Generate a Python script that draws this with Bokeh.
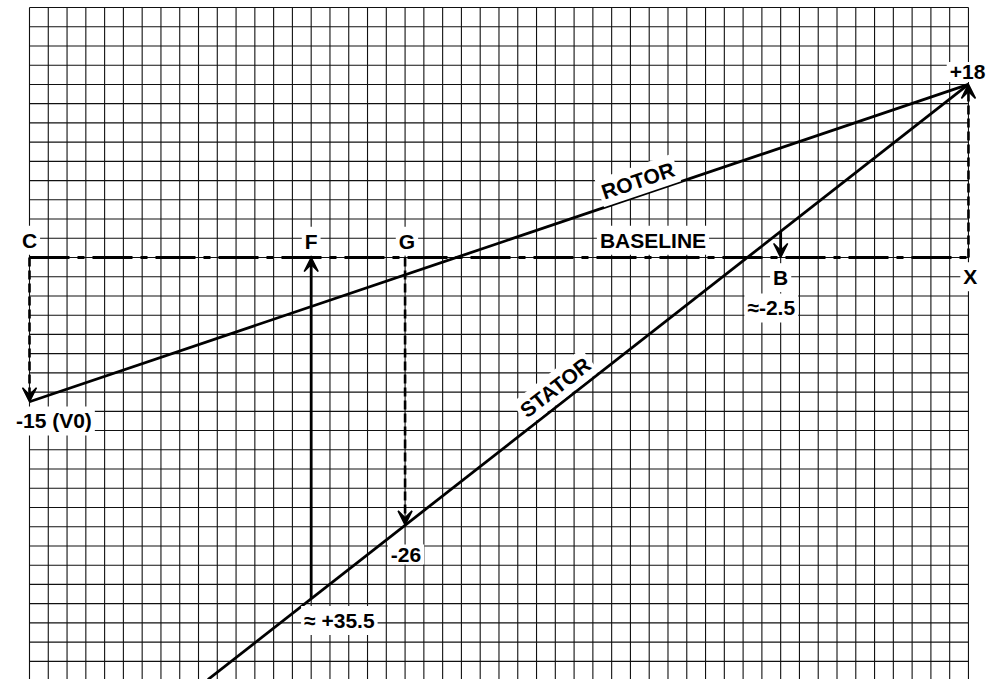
import math
from bokeh.plotting import figure
from bokeh.models import Range1d, Arrow, VeeHead, ColumnDataSource, Label
from bokeh.embed import file_html
from bokeh.resources import INLINE

# ---------------- data ----------------
rotor_x = [0, 50]
rotor_y = [-15, 18]
stator_x = [9.5, 50]
stator_y = [-43.9, 18]
baseline_x = [0, 50]
baseline_y = [0, 0]

solid_arrow_x = [15, 40]
solid_arrow_y0 = [-35.5, 2.7]
solid_arrow_y1 = [0, 0]

dashed_arrow_x = [0, 20, 50]
dashed_arrow_y0 = [0, 0, 0]
dashed_arrow_y1 = [-15, -27.8, 18]

label_text = ["C", "F", "G", "BASELINE", "B", "X", "≈-2.5", "-15 (V0)", "-26", "≈ +35.5", "+18"]
label_x = [0, 15, 20.1, 33.2, 40, 50.1, 39.5, 1.3, 20.05, 16.5, 49.95]
label_y = [1.8, 1.7, 1.7, 1.8, -2.1, -2.0, -5.25, -17.0, -30.9, -37.75, 19.3]

line_label_text = ["ROTOR", "STATOR"]
line_label_x = [32.4, 28.0]
line_label_y = [8.0, -13.5]

grid_x_ticks = list(range(0, 51))
grid_y_ticks = list(range(-46, 27, 2))

# ---------------- figure ----------------
W, H = 995, 679
x_range = Range1d(-1.544, 51.44)
y_range = Range1d(-43.89, 26.73)
p = figure(width=W, height=H, x_range=x_range, y_range=y_range,
           x_axis_type=None, y_axis_type=None, toolbar_location=None,
           output_backend="svg", title=None,
           min_border=0, min_border_left=0, min_border_right=0,
           min_border_top=0, min_border_bottom=0,
           outline_line_color=None, background_fill_color="white", border_fill_color="white")
p.xgrid.visible = False
p.ygrid.visible = False

grid_color = "#111111"
gx0, gx1 = min(grid_x_ticks), max(grid_x_ticks)
gy0, gy1 = min(grid_y_ticks), max(grid_y_ticks)
p.segment(x0=grid_x_ticks, y0=[gy0] * len(grid_x_ticks), x1=grid_x_ticks, y1=[gy1] * len(grid_x_ticks),
          line_color=grid_color, line_width=1.1, level="underlay")
p.segment(x0=[gx0] * len(grid_y_ticks), y0=grid_y_ticks, x1=[gx1] * len(grid_y_ticks), y1=grid_y_ticks,
          line_color=grid_color, line_width=1.1, level="underlay")

p.line(baseline_x, baseline_y, line_width=3, line_dash="40 8 7 8", line_color="black")
p.line(rotor_x, rotor_y, line_width=2.8, line_color="black")
p.line(stator_x, stator_y, line_width=2.8, line_color="black")

solid_src = ColumnDataSource(dict(x0=solid_arrow_x, y0=solid_arrow_y0, x1=solid_arrow_x, y1=solid_arrow_y1))
dashed_src = ColumnDataSource(dict(x0=dashed_arrow_x, y0=dashed_arrow_y0, x1=dashed_arrow_x, y1=dashed_arrow_y1))

p.add_layout(Arrow(end=VeeHead(size=14, fill_color="black", line_color="black", line_width=1.5),
                   source=solid_src, x_start="x0", y_start="y0", x_end="x1", y_end="y1",
                   line_width=2.8, line_color="black"))
p.add_layout(Arrow(end=VeeHead(size=14, fill_color="black", line_color="black", line_width=1.5),
                   source=dashed_src, x_start="x0", y_start="y0", x_end="x1", y_end="y1",
                   line_width=2.6, line_color="black", line_dash="9 4"))

font = "Liberation Sans"
fsize = "21px"
for t, x, y in zip(label_text, label_x, label_y):
    p.add_layout(Label(x=x, y=y, text=t, text_align="center", text_baseline="middle",
                       text_font=font, text_font_style="bold", text_font_size=fsize,
                       text_color="black", background_fill_color="white", padding=3))

# angles of the rotated labels follow the screen slope of their lines
px_x = W / (x_range.end - x_range.start)
px_y = H / (y_range.end - y_range.start)
angles = [
    math.atan2((rotor_y[1] - rotor_y[0]) * px_y, (rotor_x[1] - rotor_x[0]) * px_x),
    math.atan2((stator_y[1] - stator_y[0]) * px_y, (stator_x[1] - stator_x[0]) * px_x),
]
for t, x, y, a in zip(line_label_text, line_label_x, line_label_y, angles):
    p.add_layout(Label(x=x, y=y, text=t, angle=a, angle_units="rad",
                       text_align="center", text_baseline="middle",
                       text_font=font, text_font_style="bold", text_font_size=fsize,
                       text_color="black", background_fill_color="white", padding=3))

open("out.html", "w").write(file_html(p, INLINE))
